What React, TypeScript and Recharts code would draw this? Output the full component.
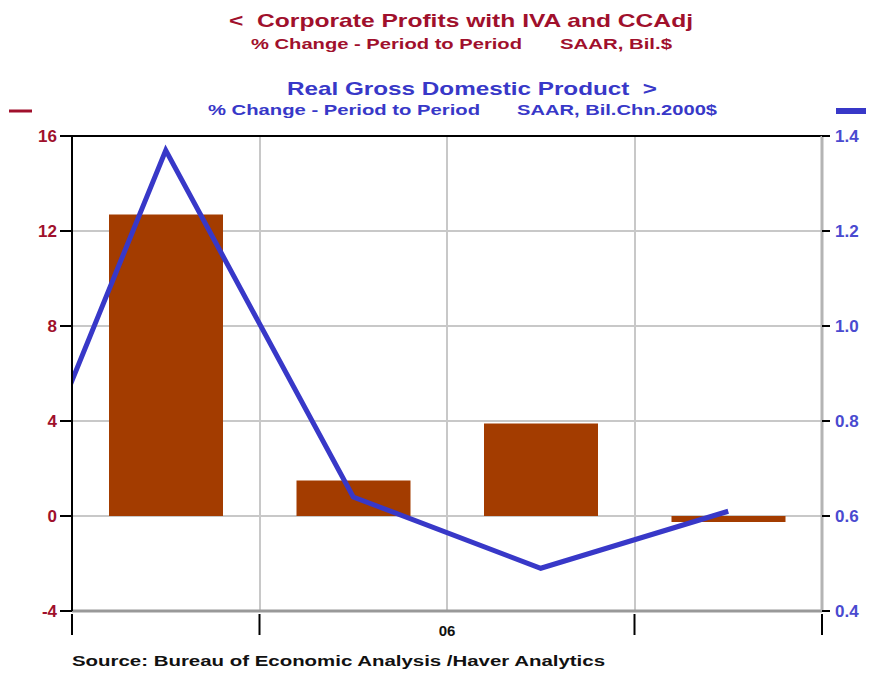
import React from 'react';
import {
    Bar,
    CartesianGrid,
    ComposedChart,
    Line,
    ReferenceLine,
    XAxis,
    YAxis,
} from 'recharts';

// quarter midpoints on a 0..4 axis (2006 Q1..Q4), plus the previous quarter (2005 Q4)
const quarterPos = [-0.5, 0.5, 1.5, 2.5, 3.5];
const quarterLabels = ['05Q4', '06Q1', '06Q2', '06Q3', '06Q4'];
const profitChange = [null, 12.7, 1.5, 3.9, -0.25];
const gdpChange = [0.4, 1.37, 0.64, 0.49, 0.61];

const leftTicks = [-4, 0, 4, 8, 12, 16];
const rightTicks = [0.4, 0.6, 0.8, 1.0, 1.2, 1.4];
const xTicks = [0, 1, 2, 3, 4];

const data = quarterPos.map((x, i) => ({
    x,
    label: quarterLabels[i],
    profits: profitChange[i],
    gdp: gdpChange[i],
}));

const RED = '#a0102c';
const BLUE = '#3838c8';
const BAR = '#a33c00';
const FONT = '"Liberation Sans", Arial, sans-serif';

const XTick = (props: any) => {
    const { x, y, payload } = props;
    if (payload.value === 2) {
        return (
            <text x={x} y={y + 25} textAnchor="middle" fontFamily={FONT} fontWeight="bold" fontSize={15} fill="#111">
                06
            </text>
        );
    }
    return <line x1={x} x2={x} y1={y + 3} y2={y + 24} stroke="#000" strokeWidth={2} />;
};

const LeftTick = (props: any) => {
    const { x, y, payload } = props;
    return (
        <text x={x} y={y + 6} textAnchor="end" fontFamily={FONT} fontWeight="bold" fontSize={17} fill={RED}>
            {payload.value}
        </text>
    );
};

const RightTick = (props: any) => {
    const { x, y, payload } = props;
    return (
        <text x={x} y={y + 6} textAnchor="start" fontFamily={FONT} fontWeight="bold" fontSize={17} fill="#4a4ad0">
            {Number(payload.value).toFixed(1)}
        </text>
    );
};

export default function App() {
    return (
        <div style={{ position: 'absolute', left: 0, top: 0, width: 875, height: 673, background: '#fff' }}>
            <ComposedChart
                width={875}
                height={673}
                data={data}
                margin={{ top: 136, right: 0, bottom: 32, left: 0 }}
            >
                <CartesianGrid
                    yAxisId="left"
                    stroke="#c8c8c8"
                    strokeWidth={2}
                    verticalPoints={[260, 447, 635]}
                />
                <XAxis
                    dataKey="x"
                    type="number"
                    domain={[0, 4]}
                    ticks={xTicks}
                    allowDataOverflow
                    height={30}
                    tickSize={0}
                    tickMargin={0}
                    tick={<XTick />}
                    axisLine={{ stroke: '#999', strokeWidth: 3 }}
                />
                <YAxis
                    yAxisId="left"
                    domain={[-4, 16]}
                    ticks={leftTicks}
                    width={72}
                    tickSize={12}
                    tickMargin={3}
                    tickLine={{ stroke: '#000', strokeWidth: 2 }}
                    axisLine={{ stroke: '#000', strokeWidth: 2 }}
                    tick={<LeftTick />}
                />
                <YAxis
                    yAxisId="right"
                    orientation="right"
                    domain={[0.4, 1.4]}
                    ticks={rightTicks}
                    width={53}
                    tickSize={8}
                    tickMargin={5}
                    tickLine={{ stroke: '#000', strokeWidth: 2 }}
                    axisLine={{ stroke: '#b4b4b4', strokeWidth: 3 }}
                    tick={<RightTick />}
                />
                <ReferenceLine yAxisId="left" y={16} stroke="#000" strokeWidth={2} />
                <Bar
                    yAxisId="left"
                    dataKey="profits"
                    fill={BAR}
                    barSize={114}
                    isAnimationActive={false}
                />
                <Line
                    yAxisId="right"
                    dataKey="gdp"
                    stroke={BLUE}
                    strokeWidth={5}
                    dot={false}
                    activeDot={false}
                    isAnimationActive={false}
                />
            </ComposedChart>
            <svg
                width={875}
                height={673}
                style={{ position: 'absolute', left: 0, top: 0, pointerEvents: 'none' }}
                fontFamily={FONT}
                fontWeight="bold"
            >
                <text x={229} y={27} fontSize={19} fill={RED} textLength={464} lengthAdjust="spacingAndGlyphs">
                    {'<\u00a0\u00a0Corporate Profits with IVA and CCAdj'}
                </text>
                <text x={251} y={49} fontSize={14} fill={RED} textLength={271} lengthAdjust="spacingAndGlyphs">
                    % Change - Period to Period
                </text>
                <text x={560} y={49} fontSize={14} fill={RED} textLength={112} lengthAdjust="spacingAndGlyphs">
                    SAAR, Bil.$
                </text>
                <text x={287} y={95} fontSize={19} fill={BLUE} textLength={370} lengthAdjust="spacingAndGlyphs">
                    {'Real Gross Domestic Product\u00a0\u00a0>'}
                </text>
                <text x={208} y={115} fontSize={14} fill={BLUE} textLength={272} lengthAdjust="spacingAndGlyphs">
                    % Change - Period to Period
                </text>
                <text x={517} y={115} fontSize={14} fill={BLUE} textLength={200} lengthAdjust="spacingAndGlyphs">
                    SAAR, Bil.Chn.2000$
                </text>
                <line x1={9} x2={32} y1={111} y2={111} stroke={RED} strokeWidth={3} />
                <line x1={836} x2={866} y1={111} y2={111} stroke={BLUE} strokeWidth={6} />
                <text x={72} y={666} fontSize={14} fill="#111" textLength={533} lengthAdjust="spacingAndGlyphs">
                    Source:  Bureau of Economic Analysis /Haver Analytics
                </text>
            </svg>
        </div>
    );
}
